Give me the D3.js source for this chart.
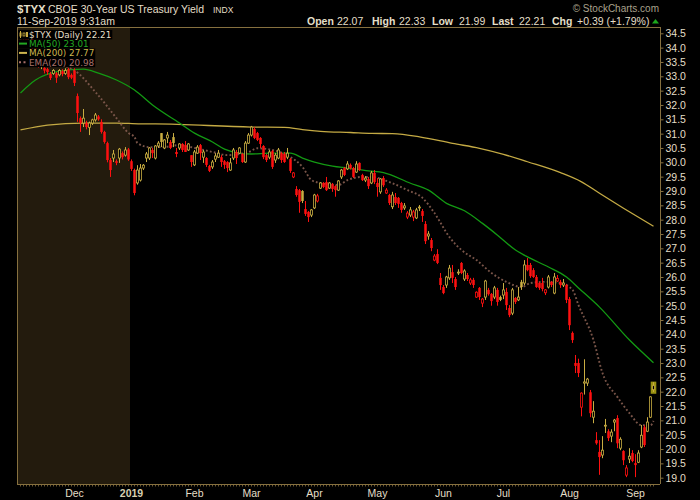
<!DOCTYPE html>
<html>
<head>
<meta charset="utf-8">
<script src="https://cdn.jsdelivr.net/npm/d3@7"></script>
<style>
  body { margin: 0; background: #000; }
  text { font-family: "Liberation Sans", Arial, sans-serif; }
</style>
</head>
<body>
<script>
// daily candles [open, high, low, close], one small array per month
const nov = [
  [34.3,34.5,34.2,34.4],[34.4,34.5,34.2,34.3],[34.3,34.5,34.1,34.2],[34.2,34.4,34.1,34.35],
  [34.3,34.35,33.9,34.0],[34.0,34.1,33.7,33.8],[33.8,33.9,33.3,33.35],[33.4,33.6,33.25,33.5],
  [33.3,33.4,33.1,33.2],[33.25,33.3,33.05,33.15],[33.08,33.15,32.87,32.94],[33.1,33.25,33.05,33.2],
  [33.1,33.15,32.77,32.95],[33.05,33.25,33.0,33.2],[33.18,33.25,33.0,33.08],[33.1,33.28,33.05,33.2],
  [33.25,33.3,32.9,32.97],[33.05,33.1,32.9,32.95]
]
const dec = [
  [33.2,33.28,32.66,32.77],[32.31,32.4,31.41,31.72],[31.54,31.6,31.06,31.37],[31.37,31.86,31.23,31.54],
  [31.37,31.45,31.15,31.23],[31.22,31.42,30.95,31.37],[31.37,31.52,31.3,31.48],[31.48,31.72,31.42,31.65],
  [31.6,31.65,31.45,31.5],[31.41,31.5,31.0,31.06],[31.06,31.1,30.65,30.71],[30.67,30.72,30.0,30.08],
  [30.08,30.15,29.49,29.73],[30.15,30.43,30.01,30.29],[30.04,30.1,29.9,29.98],[30.15,30.5,29.98,30.46],
  [30.32,30.38,30.1,30.18],[30.25,30.53,30.2,30.43],[30.45,30.5,30.05,30.1]
]
const jan = [
  [30.04,30.1,29.7,29.77],[29.73,29.78,28.85,28.93],[29.28,29.9,29.22,29.73],[29.38,29.94,29.33,29.8],
  [29.8,29.94,29.73,29.9],[30.15,30.36,30.01,30.29],[30.15,30.53,30.08,30.5],[30.43,30.5,30.15,30.32],
  [30.15,30.6,30.1,30.57],[30.57,30.74,30.5,30.67],[31.02,31.02,30.53,30.71],[30.5,30.81,30.46,30.78],
  [30.85,31.06,30.67,30.95],[30.71,30.78,30.46,30.5],[30.88,31.02,30.53,30.67],[30.36,30.5,30.18,30.29],
  [30.5,30.67,30.43,30.64],[30.64,30.67,30.36,30.43],[30.6,30.74,30.36,30.36],[30.43,30.67,30.4,30.64],
  [30.25,30.25,29.84,30.01]
]
const feb = [
  [29.91,30.43,29.87,30.36],[30.32,30.6,30.29,30.53],[30.6,30.64,30.08,30.32],[30.18,30.43,29.98,30.36],
  [30.15,30.18,29.84,29.91],[29.87,29.91,29.66,29.7],[29.84,30.08,29.77,30.01],[30.11,30.32,30.01,30.22],
  [30.18,30.43,30.15,30.32],[30.18,30.25,29.84,30.01],[30.04,30.08,29.77,29.91],[30.01,30.04,29.66,29.8],
  [29.73,30.15,29.7,29.98],[30.15,30.5,30.08,30.43],[30.36,30.43,29.94,30.15],[30.32,30.53,30.29,30.5],
  [30.29,30.32,29.98,30.01],[30.01,30.74,29.98,30.67],[30.67,31.02,30.64,30.95]
]
const mar = [
  [30.95,31.27,30.9,31.23],[31.16,31.23,30.81,30.85],[31.02,31.06,30.74,30.78],[30.85,30.88,30.5,30.64],
  [30.57,30.6,30.11,30.18],[30.25,30.29,30.01,30.08],[30.18,30.43,30.11,30.36],[30.39,30.43,29.77,29.84],
  [30.08,30.32,29.98,30.25],[30.15,30.5,30.11,30.43],[30.32,30.36,29.98,30.08],[30.29,30.36,29.98,30.01],
  [30.18,30.5,30.11,30.32],[30.11,30.15,29.63,29.7],[29.49,29.66,29.45,29.63],[29.07,29.17,28.8,28.86],
  [29.03,29.07,28.24,28.62],[29.0,29.03,28.58,28.65],[28.37,28.65,28.13,28.2],[28.27,28.3,27.92,28.09],
  [28.16,28.37,28.09,28.34]
]
const apr = [
  [28.41,28.9,28.37,28.86],[28.65,28.9,28.6,28.83],[29.1,29.31,29.07,29.28],[29.28,29.31,29.1,29.14],
  [29.31,29.49,29.0,29.03],[29.1,29.31,29.07,29.28],[29.24,29.28,28.97,29.07],[29.17,29.2,28.8,29.03],
  [29.03,29.38,29.0,29.35],[29.49,29.77,29.42,29.73],[29.8,29.84,29.52,29.56],[29.77,30.04,29.73,29.94],
  [29.91,29.96,29.75,29.8],[29.8,29.84,29.45,29.49],[29.66,30.04,29.63,29.94],[29.98,30.0,29.7,29.73],
  [29.56,29.6,29.35,29.38],[29.38,29.52,29.31,29.45],[29.42,29.49,29.07,29.17],[29.28,29.7,29.24,29.63],
  [29.63,29.73,29.24,29.31]
]
const may = [
  [29.28,29.45,28.8,29.14],[28.97,29.45,28.9,29.42],[29.45,29.52,29.14,29.2],[28.93,29.1,28.9,29.03],
  [28.86,28.9,28.51,28.58],[28.45,28.97,28.37,28.86],[28.79,28.93,28.51,28.58],[28.76,28.79,28.41,28.55],
  [28.58,28.62,28.24,28.34],[28.41,28.58,28.34,28.48],[28.09,28.3,28.02,28.23],[28.16,28.44,28.09,28.34],
  [28.09,28.34,27.95,28.27],[28.06,28.41,28.02,28.34],[28.41,28.51,28.3,28.44],[28.3,28.37,27.92,28.13],
  [27.85,27.95,27.15,27.25],[27.43,27.6,27.3,27.5],[27.29,27.36,26.9,27.01],[26.59,26.8,26.55,26.73],
  [26.8,26.97,26.45,26.49],[25.97,26.14,25.55,25.72]
]
const jun = [
  [25.65,25.72,25.4,25.44],[25.72,26.04,25.62,26.0],[25.97,26.42,25.9,26.31],[26.17,26.42,25.79,25.97],
  [25.93,26.0,25.55,25.65],[26.14,26.27,26.07,26.17],[26.49,26.52,26.1,26.14],[25.93,26.27,25.86,26.21],
  [26.07,26.14,25.86,25.93],[25.79,25.97,25.72,25.9],[25.9,25.97,25.62,25.72],[25.3,25.5,25.27,25.47],
  [25.62,25.65,25.2,25.3],[25.09,25.27,24.95,25.23],[25.3,25.9,25.2,25.86],[25.55,25.62,25.35,25.4],
  [25.41,25.44,25.0,25.16],[25.3,25.69,25.23,25.62],[25.55,25.62,25.0,25.13],[25.3,25.35,25.16,25.2]
]
const jul = [
  [25.37,25.79,25.23,25.55],[25.48,25.62,24.85,25.02],[24.92,25.02,24.6,24.67],[24.74,25.62,24.67,25.55],
  [25.27,25.3,25.06,25.13],[25.2,25.65,25.16,25.3],[25.83,25.9,25.55,25.65],[25.79,26.59,25.72,26.42],
  [26.42,26.66,26.2,26.24],[26.42,26.49,25.97,26.03],[26.24,26.31,25.97,26.0],[26.0,26.07,25.62,25.65],
  [25.79,25.83,25.55,25.62],[25.79,25.97,25.5,25.58],[25.45,25.58,25.37,25.55],[25.65,26.07,25.6,26.0],
  [25.83,25.86,25.65,25.72],[25.44,26.14,25.4,26.0],[25.86,26.07,25.83,25.95],[25.83,25.9,25.62,25.72],
  [25.72,25.93,25.65,25.79],[25.72,25.76,25.09,25.2]
]
const aug = [
  [25.23,25.3,24.15,24.32],[24.05,24.1,23.7,23.8],[23.0,23.28,22.65,22.9],[23.0,23.15,22.51,22.65],
  [21.46,21.98,21.14,21.95],[22.3,23.13,21.9,22.34],[22.3,22.48,22.2,22.44],[21.98,22.06,21.11,21.25],
  [21.11,21.67,20.9,21.32],[20.31,20.59,20.15,20.2],[19.9,20.31,19.1,19.72],[19.79,20.45,19.68,19.96],
  [20.8,21.05,20.56,20.83],[20.62,20.69,20.28,20.38],[20.45,20.69,20.24,20.59],[20.94,21.05,20.62,21.01],
  [21.08,21.18,20.03,20.2],[20.03,20.41,19.96,20.34],[19.93,19.96,19.44,19.61],[19.09,19.44,19.02,19.34],
  [19.65,20.03,19.51,19.75],[19.86,19.96,19.54,19.58]
]
const sep = [
  [19.51,19.82,19.02,19.44],[19.54,19.96,19.51,19.86],[20.07,20.84,20.03,20.48],[20.76,20.83,20.07,20.14],
  [20.62,21.11,20.59,20.94],[21.11,21.84,21.08,21.82],[22.07,22.33,21.99,22.21]
]

// overlays: [bar index, value]
const ma50 = [
  [0,32.42],[5,32.87],[13,33.18],[21,33.25],[26,33.11],[32,32.87],[38,32.52],[44,32.0],
  [53,31.37],[58,31.02],[64,30.71],[68,30.46],[73,30.32],[77,30.29],[83,30.32],[90,30.32],
  [94,30.15],[98,30.01],[104,29.87],[109,29.8],[116,29.7],[121,29.64],[130,29.27],[136,29.03],
  [142,28.57],[148,28.31],[154,27.87],[159,27.46],[165,26.94],[169,26.7],[176,26.35],[182,26.0],
  [186,25.62],[193,24.95],[203,23.8],[211,23.01]
]
const ma200 = [
  [0,31.13],[9,31.3],[21,31.37],[32,31.37],[40,31.34],[45,31.34],[77,31.23],[88,31.22],
  [94,31.14],[100,31.08],[110,31.04],[117,31.01],[124,31.0],[133,30.89],[144,30.66],[153,30.49],
  [161,30.28],[169,30.02],[180,29.64],[187,29.32],[193,28.92],[201,28.4],[211,27.77]
]
const ema20 = [
  [10,33.45],[18,33.2],[25,32.45],[32,31.54],[36,31.02],[38,30.88],[39,30.67],[43,30.53],
  [47,30.53],[53,30.6],[58,30.5],[64,30.36],[69,30.25],[76,30.36],[79,30.49],[84,30.43],
  [90,30.18],[94,29.84],[97,29.38],[100,29.28],[106,29.21],[109,29.38],[114,29.49],[117,29.49],
  [123,29.31],[129,29.03],[134,28.76],[138,28.23],[143,27.39],[147,26.94],[152,26.59],[157,26.14],
  [162,25.83],[167,25.65],[170,25.79],[175,25.83],[180,25.79],[184,25.55],[186,25.02],[191,23.8],
  [194,22.65],[199,21.81],[203,21.25],[207,20.83],[210,20.83],[211,20.98]
]

const holidays = ['2018-11-12','2018-11-22','2018-12-05','2018-12-25','2019-01-01','2019-01-21',
  '2019-02-18','2019-04-19','2019-05-27','2019-07-04','2019-09-02']
const monthTicks = [['2018-12','Dec'],['2019-01','2019'],['2019-02','Feb'],['2019-03','Mar'],
  ['2019-04','Apr'],['2019-05','May'],['2019-06','Jun'],['2019-07','Jul'],['2019-08','Aug'],['2019-09','Sep']]
const yTicks = d3.range(19, 34.51, 0.5)

const header = [['Open','22.07'],['High','22.33'],['Low','21.99'],['Last','22.21'],['Chg','+0.39 (+1.79%)']]
const legendRows = [
  {label: '$TYX (Daily) 22.21', color: '#e4dfc8'},
  {label: 'MA(50) 23.01', color: '#22a822'},
  {label: 'MA(200) 27.77', color: '#cdb64e'},
  {label: 'EMA(20) 20.98', color: '#a8706a'}
]

// trading days
const dates = []
for (let d = new Date(Date.UTC(2018, 10, 5)); d <= new Date(Date.UTC(2019, 8, 11)); d.setUTCDate(d.getUTCDate() + 1)) {
  const s = d.toISOString().slice(0, 10)
  if (d.getUTCDay() % 6 !== 0 && !holidays.includes(s)) dates.push(s)
}

const rows = [].concat(nov, dec, jan, feb, mar, apr, may, jun, jul, aug, sep)
const data = rows.map((r, i) => ({
  date: dates[i], o: r[0], h: r[1], l: r[2], c: r[3], prev: i ? rows[i - 1][3] : r[0]
}))

const width = 700, height = 500
const pL = 17, pR = 660, pT = 27, pB = 484
const RED = '#ff1010', GOLD = '#c9ad42', TXT = '#e4dfc8', FRAME = '#86703f'

const svg = d3.select('body').append('svg').attr('width', width).attr('height', height)
  .style('background', '#000')

const x = d3.scalePoint().domain(dates).range([20.5, 653.5])
const y = d3.scaleLinear().domain([19, 34.5]).range([477.7, 33.3])
const xi = i => x(dates[i])

svg.append('clipPath').attr('id', 'plot')
  .append('rect').attr('x', pL).attr('y', pT).attr('width', pR - pL).attr('height', pB - pT)

// shaded 2018 region
const janStart = dates.findIndex(d => d.startsWith('2019'))
svg.append('rect').attr('x', pL).attr('y', pT)
  .attr('width', (xi(janStart - 1) + xi(janStart)) / 2 - pL).attr('height', pB - pT)
  .attr('fill', '#231b0d')

const plot = svg.append('g').attr('clip-path', 'url(#plot)')

// moving averages
const line = d3.line().x(d => xi(d[0])).y(d => y(d[1])).curve(d3.curveMonotoneX)
plot.append('path').datum(ma200).attr('d', line).attr('fill', 'none').attr('stroke', '#c4aa44').attr('stroke-width', 1.3)
plot.append('path').datum(ma50).attr('d', line).attr('fill', 'none').attr('stroke', '#139a13').attr('stroke-width', 1.3)
plot.append('path').datum(ema20).attr('d', line).attr('fill', 'none').attr('stroke', '#7a5549')
  .attr('stroke-width', 1.9).attr('stroke-dasharray', '1.8 2.2')

// last bar highlight
const last = data[data.length - 1]
plot.append('rect').attr('x', x(last.date) - 2.8).attr('width', 5.6)
  .attr('y', y(last.h) - 0.6).attr('height', y(last.l) - y(last.h) + 2.4)
  .attr('fill', '#9a9212')

// candles
const candle = plot.selectAll('g.candle').data(data).enter().append('g').attr('class', 'candle')
const colorOf = d => d.c < d.prev ? RED : GOLD
candle.append('line')
  .attr('x1', d => x(d.date)).attr('x2', d => x(d.date))
  .attr('y1', d => y(d.h)).attr('y2', d => y(d.l))
  .attr('stroke', colorOf).attr('stroke-width', 1)
candle.append('rect')
  .attr('x', d => x(d.date) - (d.c < d.o ? 1.25 : 1.05))
  .attr('width', d => d.c < d.o ? 2.5 : 2.1)
  .attr('y', d => y(Math.max(d.o, d.c)))
  .attr('height', d => Math.max(0.9, Math.abs(y(d.o) - y(d.c))))
  .attr('fill', d => d.c < d.o ? colorOf(d) : '#000')
  .attr('stroke', d => d.c < d.o ? 'none' : colorOf(d))
  .attr('stroke-width', 0.8)

// frame
svg.append('line').attr('x1', pL).attr('x2', pR).attr('y1', pT + 0.5).attr('y2', pT + 0.5).attr('stroke', FRAME)
svg.append('line').attr('x1', pL + 0.5).attr('x2', pL + 0.5).attr('y1', pT).attr('y2', pB).attr('stroke', FRAME)
svg.append('line').attr('x1', pL).attr('x2', pR).attr('y1', pB + 0.5).attr('y2', pB + 0.5).attr('stroke', FRAME)

// right axis
const yAxis = d3.axisRight(y).tickValues(yTicks).tickFormat(d3.format('.1f')).tickSize(3).tickPadding(2)
const ya = svg.append('g').attr('transform', `translate(${pR + 0.5},0)`).call(yAxis)
ya.select('.domain').attr('stroke', FRAME).attr('d', `M0,${pT}V${pB}`)
ya.selectAll('.tick line').attr('stroke', FRAME)
ya.selectAll('.tick text').attr('fill', TXT).style('font-size', '10.5px')
  .style('font-family', '"Liberation Sans", Arial, sans-serif')

// bottom day ticks
svg.append('g').selectAll('line').data(dates).enter().append('line')
  .attr('x1', d => x(d)).attr('x2', d => x(d))
  .attr('y1', pB + 1).attr('y2', pB + 2.5)
  .attr('stroke', FRAME).attr('stroke-width', 0.8)

// month labels
svg.append('g').selectAll('text').data(monthTicks).enter().append('text')
  .attr('x', d => x(dates.find(s => s.startsWith(d[0]))))
  .attr('y', 497).attr('text-anchor', 'middle')
  .attr('fill', d => d[1] === '2019' ? '#d8d0b0' : TXT)
  .style('font-size', '10.5px').style('font-weight', d => d[1] === '2019' ? 'bold' : 'normal')
  .text(d => d[1])

// header
svg.append('text').attr('x', 17).attr('y', 13).attr('fill', TXT)
  .style('font-size', '11.5px').style('font-weight', 'bold').text('$TYX')
svg.append('text').attr('x', 48).attr('y', 13).attr('fill', TXT).style('font-size', '10.5px')
  .text('CBOE 30-Year US Treasury Yield')
svg.append('text').attr('x', 213).attr('y', 13).attr('fill', TXT).style('font-size', '8.5px').text('INDX')
svg.append('text').attr('x', 17).attr('y', 24.5).attr('fill', TXT).style('font-size', '10.5px')
  .text('11-Sep-2019 9:31am')
svg.append('text').attr('x', 659).attr('y', 12).attr('text-anchor', 'end').attr('fill', '#aaa28c')
  .style('font-size', '10px').text('\u00a9 StockCharts.com')

const hx = [[307, 337], [372, 399], [432, 459], [492, 519], [552, 577]]
const hdr = svg.append('g').attr('fill', TXT).style('font-size', '10.5px')
header.forEach((h, i) => {
  hdr.append('text').attr('x', hx[i][0]).attr('y', 24.5).style('font-weight', 'bold').text(h[0])
  hdr.append('text').attr('x', hx[i][1]).attr('y', 24.5).text(h[1])
})
svg.append('path').attr('d', 'M652,23.5L655.5,19L659,23.5Z').attr('fill', '#1ca81c')

// legend
const lg = svg.append('g')
legendRows.forEach((r, i) => {
  const ty = 30 + i * 9.3
  const t = lg.append('text').attr('x', 29).attr('y', ty + 7.6).attr('fill', r.color)
    .style('font-family', '"DejaVu Sans", sans-serif').style('font-size', '8.8px').text(r.label)
  const w = t.node().getComputedTextLength()
  lg.insert('rect', 'text').attr('x', 18).attr('y', ty).attr('width', w + 12).attr('height', 9.3).attr('fill', '#000')
})
// legend swatches
lg.append('rect').attr('x', 19.5).attr('y', 32.5).attr('width', 2).attr('height', 4).attr('fill', GOLD)
lg.append('line').attr('x1', 20.5).attr('x2', 20.5).attr('y1', 31).attr('y2', 38).attr('stroke', GOLD)
lg.append('rect').attr('x', 23).attr('y', 33).attr('width', 2).attr('height', 3).attr('fill', 'none').attr('stroke', GOLD).attr('stroke-width', 0.8)
lg.append('rect').attr('x', 26).attr('y', 32).attr('width', 2).attr('height', 5).attr('fill', GOLD)
lg.append('line').attr('x1', 19).attr('x2', 27).attr('y1', 43.6).attr('y2', 43.6).attr('stroke', '#22a822').attr('stroke-width', 2)
lg.append('line').attr('x1', 19).attr('x2', 27).attr('y1', 52.9).attr('y2', 52.9).attr('stroke', '#cdb64e').attr('stroke-width', 2)
lg.append('line').attr('x1', 19).attr('x2', 26).attr('y1', 62.2).attr('y2', 62.2).attr('stroke', '#a8706a')
  .attr('stroke-width', 2).attr('stroke-dasharray', '2 2.5')
</script>
</body>
</html>
